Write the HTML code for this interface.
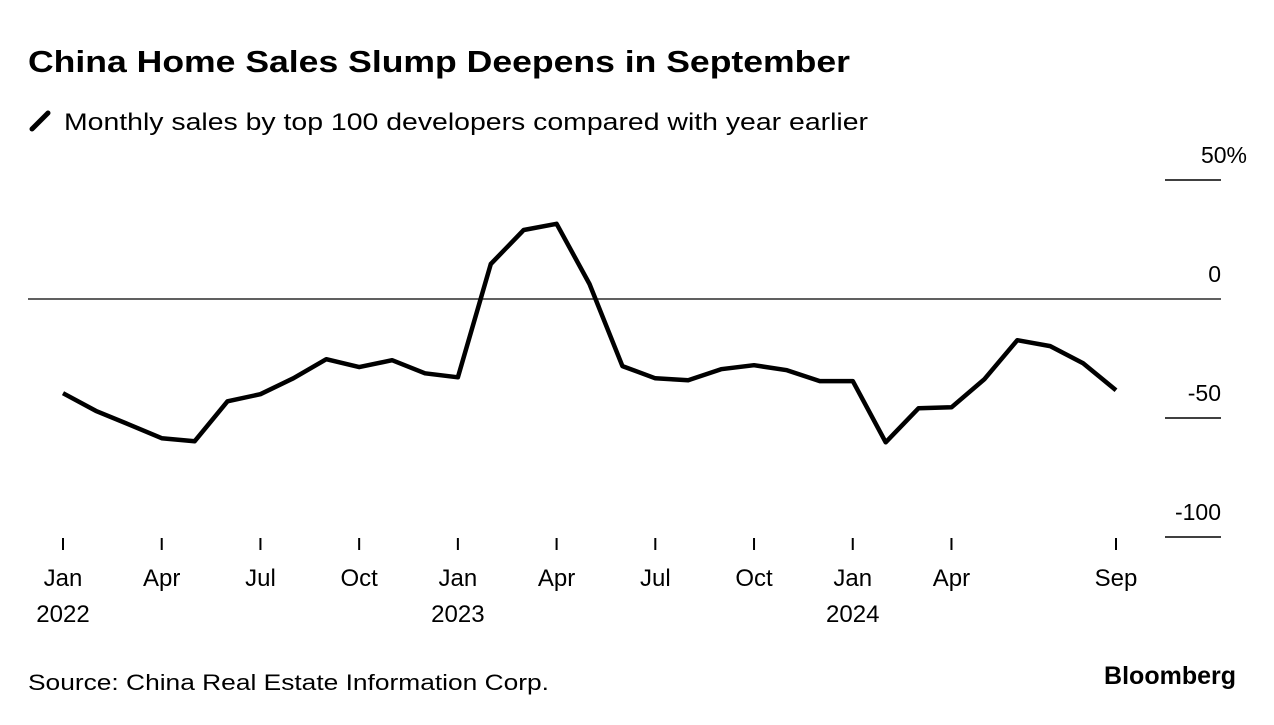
<!DOCTYPE html>
<html><head><meta charset="utf-8"><style>
body{margin:0;background:#fff;font-family:"Liberation Sans",sans-serif;}
</style></head><body>
<svg width="1274" height="720" xmlns="http://www.w3.org/2000/svg" font-family="Liberation Sans, sans-serif">
<text x="28" y="72" font-size="31" font-weight="bold" fill="#000" textLength="822" lengthAdjust="spacingAndGlyphs">China Home Sales Slump Deepens in September</text>
<line x1="32" y1="129" x2="48" y2="113" stroke="#000" stroke-width="5" stroke-linecap="round"/>
<text x="64" y="130" font-size="24" fill="#000" textLength="804" lengthAdjust="spacingAndGlyphs">Monthly sales by top 100 developers compared with year earlier</text>
<g id="grid"></g>
<g id="xaxis"></g>
<path id="line" fill="none" stroke="#000" stroke-width="4.5" stroke-linejoin="round"/>
<text x="28" y="690" font-size="22" fill="#000" textLength="521" lengthAdjust="spacingAndGlyphs">Source: China Real Estate Information Corp.</text>
<text x="1236" y="684" font-size="25" font-weight="bold" text-anchor="end" fill="#000">Bloomberg</text>
</svg>
<script>
const values=[-39.6,-47,-52.7,-58.5,-59.8,-43,-40,-33.3,-25.3,-28.6,-25.7,-31.2,-32.9,14.7,29,31.6,6.3,-28.2,-33.3,-34.1,-29.5,-27.8,-29.9,-34.5,-34.5,-60.2,-45.9,-45.5,-33.7,-17.3,-19.8,-27,-38.3];
const yTicks=[50,0,-50,-100];
const yTickLabels=["50%","0","-50","-100"];
const xTickMonths=[0,3,6,9,12,15,18,21,24,27,32];
const xTickLabels=[["Jan","2022"],["Apr"],["Jul"],["Oct"],["Jan","2023"],["Apr"],["Jul"],["Oct"],["Jan","2024"],["Apr"],["Sep"]];
const NS="http://www.w3.org/2000/svg";
const x=m=>63+m*(1116-63)/32;
const y=v=>299-v*(537-299)/100;
const grid=document.getElementById('grid');
yTicks.forEach((t,i)=>{
  const l=document.createElementNS(NS,'line');
  
  
  l.setAttribute('x1',t===0?28:1165);l.setAttribute('x2',1221);
  l.setAttribute('y1',y(t));l.setAttribute('y2',y(t));
  l.setAttribute('stroke','#000');l.setAttribute('stroke-width',t===0?1.2:1.5);
  grid.appendChild(l);
  const tx=document.createElementNS(NS,'text');
  
  
  tx.setAttribute('x',yTickLabels[i].endsWith('%')?1247:1221);tx.setAttribute('y',y(t)-17);
  tx.setAttribute('text-anchor','end');tx.setAttribute('font-size','23');
  tx.textContent=yTickLabels[i];grid.appendChild(tx);
});
const xa=document.getElementById('xaxis');
xTickMonths.forEach((m,i)=>{
  const l=document.createElementNS(NS,'line');
  
  
  l.setAttribute('x1',x(m));l.setAttribute('x2',x(m));
  l.setAttribute('y1',538);l.setAttribute('y2',550);
  l.setAttribute('stroke','#000');l.setAttribute('stroke-width',2);
  xa.appendChild(l);
  xTickLabels[i].forEach((s,j)=>{
    const tx=document.createElementNS(NS,'text');
    
    
    tx.setAttribute('x',x(m));tx.setAttribute('y',586+j*36);
    tx.setAttribute('text-anchor','middle');tx.setAttribute('font-size','24');
    tx.textContent=s;xa.appendChild(tx);
  });
});
document.getElementById('line').setAttribute('d',values.map((v,i)=>(i?'L':'M')+x(i).toFixed(1)+','+y(v).toFixed(1)).join(''));
</script>
</body></html>
